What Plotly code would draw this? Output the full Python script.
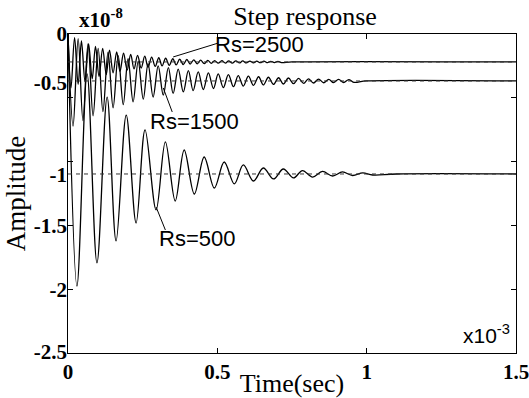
import plotly.graph_objects as go

# ---------------- data (time in 1e-3 s, amplitude in 1e-8) ----------------
t_rs2500 = [0, 0.010, 0.022, 0.034, 0.045, 0.057, 0.069, 0.081, 0.092, 0.104, 0.116,
            0.128, 0.139, 0.151, 0.163, 0.174, 0.186, 0.198, 0.210, 0.221, 0.233,
            0.245, 0.257, 0.268, 0.280, 0.292, 0.304, 0.315, 0.327, 0.339, 0.351,
            0.362, 0.374, 0.386, 0.398, 0.409, 0.421, 0.433, 0.444, 0.456, 0.468,
            0.480, 0.491, 0.503, 0.515, 0.527, 0.538, 0.550, 0.562, 0.574, 0.585,
            0.597, 0.609, 0.621, 0.632, 0.644, 0.656, 0.668, 0.679, 0.691, 0.703,
            0.715, 0.75, 1.5]
y_rs2500 = [0, -0.423, -0.029, -0.395, -0.055, -0.371, -0.077, -0.351, -0.097, -0.333, -0.113,
            -0.318, -0.127, -0.304, -0.140, -0.293, -0.151, -0.282, -0.159, -0.274, -0.168,
            -0.267, -0.174, -0.261, -0.181, -0.254, -0.186, -0.250, -0.190, -0.246, -0.194,
            -0.242, -0.198, -0.239, -0.200, -0.236, -0.203, -0.234, -0.205, -0.232, -0.207,
            -0.230, -0.208, -0.229, -0.209, -0.228, -0.210, -0.228, -0.210, -0.227, -0.211,
            -0.227, -0.212, -0.226, -0.213, -0.225, -0.213, -0.225, -0.214, -0.224, -0.214,
            -0.224, -0.219, -0.219]

t_rs1500 = [0, 0.017, 0.034, 0.050, 0.067, 0.084, 0.101, 0.117, 0.134, 0.151, 0.168,
            0.185, 0.201, 0.218, 0.235, 0.252, 0.268, 0.285, 0.302, 0.319, 0.336,
            0.352, 0.369, 0.386, 0.403, 0.419, 0.436, 0.453, 0.470, 0.487, 0.503,
            0.520, 0.537, 0.554, 0.570, 0.587, 0.604, 0.621, 0.638, 0.654, 0.671,
            0.688, 0.705, 0.721, 0.738, 0.755, 0.772, 0.789, 0.805, 0.822, 0.839,
            0.856, 0.873, 0.889, 0.906, 0.923, 0.940, 0.957, 1.0, 1.5]
y_rs1500 = [0, -0.721, -0.037, -0.678, -0.077, -0.641, -0.112, -0.608, -0.143, -0.579, -0.170,
            -0.554, -0.194, -0.532, -0.214, -0.511, -0.233, -0.494, -0.250, -0.479, -0.264,
            -0.466, -0.276, -0.454, -0.287, -0.444, -0.297, -0.435, -0.305, -0.427, -0.313,
            -0.420, -0.319, -0.413, -0.326, -0.408, -0.330, -0.403, -0.335, -0.399, -0.339,
            -0.395, -0.343, -0.392, -0.345, -0.389, -0.348, -0.387, -0.351, -0.384, -0.353,
            -0.382, -0.355, -0.381, -0.356, -0.380, -0.357, -0.379, -0.368, -0.368]

t_rs500 = [0, 0.030, 0.064, 0.097, 0.131, 0.161, 0.195, 0.228, 0.258, 0.295, 0.326,
           0.359, 0.389, 0.423, 0.456, 0.490, 0.523, 0.557, 0.587, 0.621, 0.654,
           0.688, 0.721, 0.755, 0.785, 0.819, 0.852, 0.886, 0.919, 0.953, 0.987,
           1.020, 1.10, 1.5]
y_rs500 = [0, -1.975, -0.313, -1.794, -0.494, -1.622, -0.635, -1.481, -0.752, -1.379, -0.846,
           -1.309, -0.909, -1.254, -0.964, -1.207, -1.003, -1.175, -1.026, -1.152, -1.050,
           -1.136, -1.058, -1.128, -1.070, -1.121, -1.077, -1.113, -1.081, -1.109, -1.088,
           -1.105, -1.097, -1.097]

steady_values = [-0.219, -0.368, -1.097]
steady_span = [0, 1.5]

x_tickvals = [0, 0.5, 1, 1.5]
x_ticktext = ["0", "0.5", "1", "1.5"]
y_tickvals = [0, -0.5, -1, -1.5, -2, -2.5]
# tick label positions as printed in the picture
y_labelvals = [0, -0.38, -1.10, -1.505, -2.0, -2.49]
y_labeltext = ["0", "-0.5", "-1", "-1.5", "-2", "-2.5"]

labels = ["Rs=2500", "Rs=1500", "Rs=500"]
label_text_pos = [(0.487, -0.086), (0.268, -0.682), (0.299, -1.600)]
label_line_from = [(0.352, -0.180), (0.319, -0.423), (0.295, -1.356)]
label_line_to = [(0.503, -0.071), (0.349, -0.611), (0.326, -1.536)]

# ---------------- figure ----------------
SERIF = "Liberation Serif"
SANS = "Liberation Sans"

fig = go.Figure()
for t, y in [(t_rs2500, y_rs2500), (t_rs1500, y_rs1500), (t_rs500, y_rs500)]:
    fig.add_trace(go.Scatter(x=t, y=y, mode="lines",
                             line=dict(color="black", width=1.3, shape="spline", smoothing=1),
                             showlegend=False, hoverinfo="skip"))
for v in steady_values:
    fig.add_trace(go.Scatter(x=steady_span, y=[v, v], mode="lines", yaxis="y2",
                             line=dict(color="#333333", width=1, dash="4px,4px"),
                             showlegend=False, hoverinfo="skip"))

for name, (tx, ty), (x0, y0), (x1, y1) in zip(labels, label_text_pos, label_line_from, label_line_to):
    fig.add_shape(type="line", x0=x0, y0=y0, x1=x1, y1=y1, xref="x", yref="y",
                  line=dict(color="black", width=1))
    fig.add_annotation(x=tx, y=ty, xref="x", yref="y", text=name, showarrow=False,
                       xanchor="left", yanchor="middle",
                       font=dict(family=SANS, size=22, color="black"))

fig.add_annotation(x=0.02, y=1.0, xref="paper", yref="paper", text="x10<sup>-8</sup>",
                   showarrow=False, xanchor="left", yanchor="bottom",
                   font=dict(family=SERIF, size=21, color="black", weight="bold"))
fig.add_annotation(x=0.877, y=0.012, xref="paper", yref="paper", text="x10<sup>-3</sup>",
                   showarrow=False, xanchor="left", yanchor="bottom",
                   font=dict(family=SANS, size=21, color="black"))

fig.update_layout(
    width=529, height=398,
    margin=dict(l=68, r=13, t=34, b=45, autoexpand=False),
    paper_bgcolor="white", plot_bgcolor="white",
    title=dict(text="Step response", x=305 / 529, xanchor="center", xref="container",
               y=1 - 16 / 398, yanchor="middle", yref="container",
               font=dict(family=SERIF, size=26, color="black")),
    xaxis=dict(range=[0, 1.5], tickvals=x_tickvals, ticktext=x_ticktext,
               ticks="inside", ticklen=5, tickcolor="black", mirror="ticks",
               showline=True, linecolor="black", linewidth=1,
               showgrid=False, zeroline=False, ticklabeloverflow="allow",
               tickfont=dict(family=SERIF, size=21, color="black", weight="bold"),
               title=dict(text="Time(sec)", standoff=2,
                          font=dict(family=SERIF, size=26, color="black"))),
    yaxis=dict(range=[-2.5, 0], tickvals=y_tickvals, showticklabels=False,
               ticks="inside", ticklen=5, tickcolor="black", mirror="ticks",
               showline=True, linecolor="black", linewidth=1,
               showgrid=False, zeroline=False),
    yaxis2=dict(range=[-2.5, 0], overlaying="y", side="left",
                tickvals=y_labelvals, ticktext=y_labeltext, ticks="",
                showline=False, showgrid=False, zeroline=False,
                tickfont=dict(family=SERIF, size=21, color="black", weight="bold"),
                title=dict(text="Amplitude", standoff=0,
                           font=dict(family=SERIF, size=27, color="black"))),
)

fig.write_html("out.html")
